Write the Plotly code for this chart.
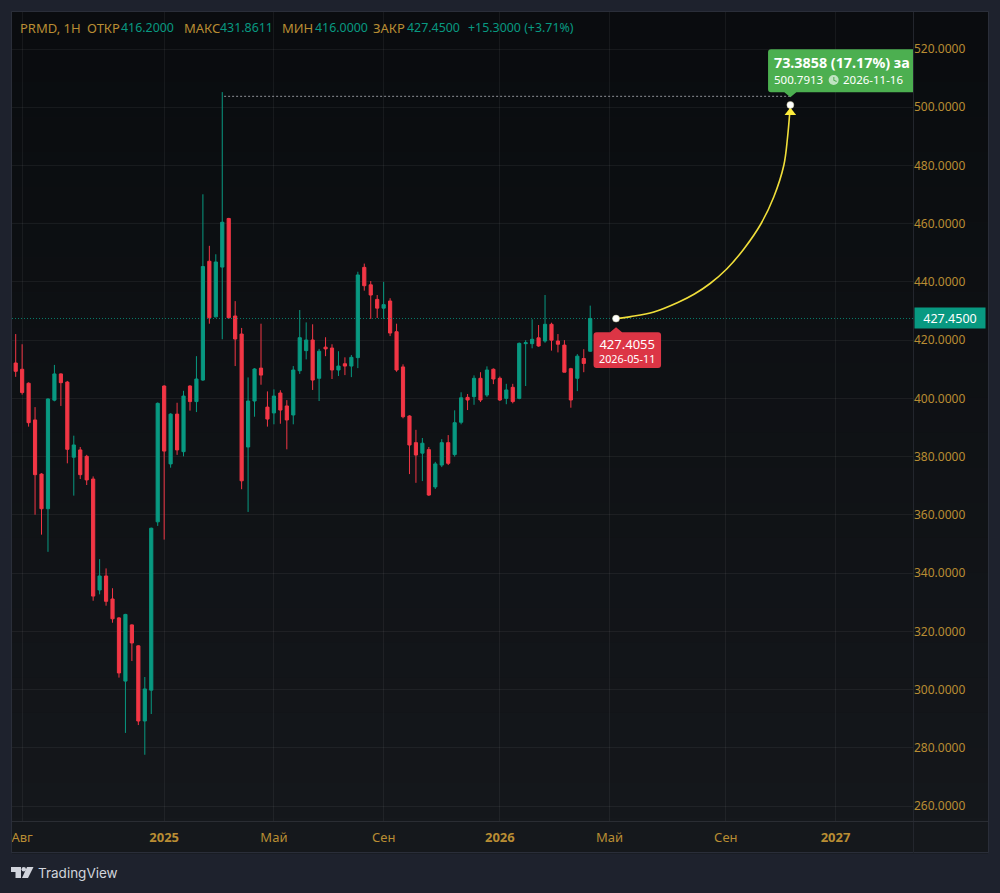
import pandas as pd
import plotly.graph_objects as go

# weekly bars, Monday dates
dates = pd.date_range("2024-07-22", periods=91, freq="7D")

opens = [399.8, 412.15, 410.0, 405.2, 392.6, 374.0, 362.1, 399.4, 408.4, 405.6,
         379.8, 382.3, 380.1, 372.3, 334.2, 339.0, 331.1, 324.6, 302.9, 322.2,
         315.0, 289.2, 299.8, 357.6, 404.25, 377.5, 394.6, 381.7, 404.25, 398.9,
         406.3, 447.1, 428.0, 445.1, 461.8, 428.3, 422.1, 383.3, 399.1, 410.4,
         397.0, 395.0, 401.85, 397.4, 394.3, 409.5, 416.4, 420.05, 406.9, 417.6,
         417.3, 409.75, 411.9, 411.1, 414.0, 445.0, 439.0, 434.0, 431.0, 433.45,
         422.9, 410.8, 393.95, 384.8, 381.2, 382.4, 369.6, 377.1, 384.8, 380.7,
         391.8, 400.35, 400.6, 406.9, 401.15, 410.0, 406.9, 400.0, 403.8, 400.0,
         418.8, 418.8, 420.8, 419.7, 425.45, 419.7, 418.3, 410.2, 406.9, 413.7,
         416.2]
highs = [406.0, 422.1, 418.6, 405.5, 397.0, 374.3, 400.0, 411.5, 408.6, 406.0,
         387.2, 383.3, 380.6, 373.2, 344.8, 341.6, 334.8, 324.9, 326.0, 322.4,
         315.2, 304.3, 355.6, 398.6, 404.5, 394.9, 398.5, 402.6, 404.5, 414.5,
         470.1, 452.4, 449.5, 505.2, 462.0, 433.4, 424.2, 407.2, 410.4, 425.65,
         402.4, 403.1, 402.8, 399.4, 411.1, 430.35, 426.1, 425.45, 417.0, 421.0,
         418.6, 416.2, 414.1, 414.9, 443.5, 446.3, 440.3, 435.5, 440.0, 434.4,
         425.65, 411.7, 394.2, 389.2, 386.4, 383.3, 378.2, 386.0, 387.4, 395.9,
         402.1, 401.5, 407.9, 409.0, 411.0, 410.3, 407.5, 405.0, 405.0, 419.2,
         420.0, 427.15, 425.2, 435.5, 426.0, 422.1, 420.0, 410.5, 415.2, 416.9,
         431.8611]
lows = [399.0, 407.4, 401.3, 390.3, 360.05, 353.2, 347.3, 399.0, 397.4, 377.7,
        366.6, 372.3, 370.25, 330.5, 332.7, 328.8, 322.95, 304.1, 285.1, 309.8,
        287.8, 277.6, 291.6, 356.2, 351.5, 376.2, 380.6, 380.1, 395.8, 395.3,
        406.0, 425.65, 427.8, 420.3, 427.3, 411.1, 368.8, 361.0, 393.7, 404.7,
        390.3, 391.1, 391.3, 382.5, 391.1, 408.4, 413.4, 402.9, 399.1, 414.5,
        406.65, 407.7, 408.0, 407.3, 410.4, 437.0, 427.3, 427.6, 427.3, 421.4,
        409.15, 393.15, 374.0, 371.0, 371.6, 366.5, 368.9, 376.4, 377.1, 380.0,
        391.1, 396.0, 397.8, 398.75, 400.5, 404.9, 399.1, 398.0, 398.3, 399.7,
        404.25, 417.2, 417.75, 419.1, 416.4, 415.8, 409.0, 396.8, 402.5, 409.0,
        416.0]
closes = [405.3, 409.3, 402.0, 391.65, 373.8, 362.1, 399.8, 408.4, 405.4, 382.5,
          384.0, 373.8, 372.0, 332.1, 339.0, 330.3, 324.3, 305.7, 325.8, 316.0,
          289.2, 300.2, 355.4, 398.3, 381.9, 394.6, 382.3, 400.8, 398.9, 406.65,
          445.3, 427.7, 446.85, 460.5, 427.7, 420.4, 371.7, 399.1, 410.1, 408.0,
          392.9, 400.8, 396.0, 392.6, 409.75, 420.85, 420.05, 406.3, 416.2, 417.0,
          409.75, 411.1, 411.1, 414.1, 442.4, 438.7, 435.5, 431.0, 432.2, 422.45,
          409.75, 393.7, 384.0, 380.55, 384.6, 366.8, 377.5, 384.8, 377.7, 391.65,
          400.2, 399.45, 406.9, 399.45, 409.75, 406.65, 399.45, 402.9, 398.9, 418.9,
          419.1, 420.3, 418.0, 425.45, 420.0, 418.6, 409.0, 399.45, 414.5, 412.0,
          427.45]

last_close = 427.45
high_level = 503.75
high_date = "2025-03-12"

# the hand drawn forecast curve
curve_dates = ["2026-05-11", "2026-05-27", "2026-06-21", "2026-07-17", "2026-08-04", "2026-08-21", "2026-09-08",
               "2026-09-27", "2026-10-15", "2026-10-29", "2026-11-09", "2026-11-13", "2026-11-16"]
curve_prices = [427.4055, 428.09, 429.67, 432.93, 435.85, 439.46, 444.44,
                451.48, 459.89, 469.17, 480.16, 489.77, 500.7913]
arrow_price = 498.2

x_tick_dates = ["2024-08-05", "2025-01-06", "2025-05-05", "2025-09-01",
                "2026-01-05", "2026-05-04", "2026-09-07", "2027-01-04"]
x_tick_text = ["Авг", "<b>2025</b>", "Май", "Сен", "<b>2026</b>", "Май", "Сен", "<b>2027</b>"]
y_ticks = [260, 280, 300, 320, 340, 360, 380, 400, 420, 440, 460, 480, 500, 520]

# header line: text and where it starts on the page
header_labels = ["PRMD, 1Н", "ОТКР", "МАКС", "МИН", "ЗАКР"]
header_label_x = [20, 87, 184, 282, 373]
header_values = ["416.2000", "431.8611", "416.0000", "427.4500", "+15.3000 (+3.71%)"]
header_value_x = [120.5, 219.5, 315, 407, 468]

x_range = ["2024-07-25", "2027-03-29"]
y_range = [254.85, 532.71]

UP = "#089981"
DOWN = "#f23645"
AMBER = "#b98d33"
YELLOW = "#f0de3a"
FONT = "Noto Sans"
W, H = 1000, 893
L, R, T, B = 12, 913, 12, 821


# pixel position on the page -> paper coordinates
def px(x):
    return (x - L) / (R - L)


def py(y):
    return (B - y) / (B - T)


def box_path(x0, x1, top, bottom, tip_x, tip_y, r=3):
    # rounded box with a little pointer, pixels relative to the anchor (y up)
    if tip_y > top:
        edge = f"L {tip_x - 6} {top} L {tip_x} {tip_y} L {tip_x + 6} {top} "
        low_edge = ""
    else:
        edge = ""
        low_edge = f"L {tip_x + 6} {bottom} L {tip_x} {tip_y} L {tip_x - 6} {bottom} "
    return (f"M {x0 + r} {top} {edge}L {x1 - r} {top} Q {x1} {top} {x1} {top - r} "
            f"L {x1} {bottom + r} Q {x1} {bottom} {x1 - r} {bottom} {low_edge}"
            f"L {x0 + r} {bottom} Q {x0} {bottom} {x0} {bottom + r} "
            f"L {x0} {top - r} Q {x0} {top} {x0 + r} {top} Z")


def pixel_shape(path, color, x, y):
    return dict(type="path", path=path, fillcolor=color, line=dict(width=0),
                xref="x", yref="y", xsizemode="pixel", ysizemode="pixel",
                xanchor=x, yanchor=y, layer="above")


def poly_path(points):
    return "M " + " L ".join(f"{px(x)} {py(y)}" for x, y in points) + " Z"


fig = go.Figure()

fig.add_trace(go.Scatter(x=x_range, y=[last_close, last_close], mode="lines",
                         line=dict(color=UP, width=1, dash="1px,2px"), opacity=0.8, hoverinfo="skip"))
fig.add_trace(go.Candlestick(x=dates, open=opens, high=highs, low=lows, close=closes,
                             increasing=dict(fillcolor=UP, line=dict(color=UP, width=1)),
                             decreasing=dict(fillcolor=DOWN, line=dict(color=DOWN, width=1)),
                             whiskerwidth=0))
fig.add_trace(go.Scatter(x=[high_date, curve_dates[-1]], y=[high_level, high_level], mode="lines",
                         line=dict(color="#8d9096", width=1, dash="2px,2px"), hoverinfo="skip"))
fig.add_trace(go.Scatter(x=curve_dates, y=curve_prices, mode="lines",
                         line=dict(color=YELLOW, width=1.6, shape="spline", smoothing=1), hoverinfo="skip"))
fig.add_trace(go.Scatter(x=[curve_dates[-1]], y=[arrow_price], mode="markers",
                         marker=dict(symbol="triangle-up", size=10, color="#fdec3c"), hoverinfo="skip"))
fig.add_trace(go.Scatter(x=[curve_dates[0], curve_dates[-1]], y=[curve_prices[0], curve_prices[-1]], mode="markers",
                         marker=dict(size=7, color="white", line=dict(color="#c9c9a0", width=0.5)), hoverinfo="skip"))

# panel background fades from near black to dark grey
shapes = []
bands = 24
for i in range(bands):
    t = i / (bands - 1)
    col = f"rgb({int(10 + 11 * t)},{int(12 + 12 * t)},{int(15 + 13 * t)})"
    y0 = T + (853 - T) * i / bands
    y1 = T + (853 - T) * (i + 1) / bands
    shapes.append(dict(type="rect", xref="paper", yref="paper", x0=px(12), x1=px(988), y0=py(y0), y1=py(y1 + 0.5),
                       fillcolor=col, line=dict(width=0), layer="below"))
shapes.append(dict(type="rect", xref="paper", yref="paper", x0=px(11.5), x1=px(988.5), y0=py(11.5), y1=py(852.5),
                   fillcolor="rgba(0,0,0,0)", line=dict(color="#2a2e39", width=1), layer="above"))
shapes.append(dict(type="line", xref="paper", yref="paper", x0=px(913.5), x1=px(913.5), y0=py(12), y1=py(853),
                   line=dict(color="#23262d", width=1), layer="above"))
shapes.append(dict(type="line", xref="paper", yref="paper", x0=px(12), x1=px(988), y0=py(821.5), y1=py(821.5),
                   line=dict(color="#2a2d33", width=1), layer="above"))

# callouts on the two ends of the curve
start_x, start_y = curve_dates[0], curve_prices[0]
end_x, end_y = curve_dates[-1], curve_prices[-1]
shapes.append(pixel_shape(box_path(-22.5, 45, -13.7, -49.3, 0, -8.7), "#dc3545", start_x, start_y))
shapes.append(pixel_shape(box_path(-22.3, 125, 55.7, 12.7, 0, 7.7), "#4caf50", end_x, end_y))
shapes.append(dict(type="circle", xref="x", yref="y", xsizemode="pixel", ysizemode="pixel",
                   xanchor=end_x, yanchor=end_y, x0=38.3, x1=48.3, y0=20, y1=30,
                   fillcolor="#bfe3c1", line=dict(width=0), layer="above"))
shapes.append(pixel_shape("M 43 28 L 44 28 L 44 25 L 46.5 24 L 46 23 L 43 24.5 Z", "#4caf50", end_x, end_y))

# TradingView logo
logo = "#d1d4dc"
shapes.append(dict(type="path", xref="paper", yref="paper", fillcolor=logo, line=dict(width=0), layer="above",
                   path=poly_path([(11, 867), (21, 867), (21, 878), (15.5, 878), (15.5, 872), (11, 872)])))
shapes.append(dict(type="path", xref="paper", yref="paper", fillcolor=logo, line=dict(width=0), layer="above",
                   path=poly_path([(27, 867), (33.5, 867), (28, 878), (22, 878)])))
shapes.append(dict(type="circle", xref="paper", yref="paper", x0=px(21.5), x1=px(26), y0=py(867), y1=py(871.5),
                   fillcolor=logo, line=dict(width=0), layer="above"))

annotations = [
    dict(xref="paper", yref="paper", x=px(36), y=py(873), text="TradingView", xanchor="left", yanchor="middle",
         showarrow=False, font=dict(size=13.5, family="Inter", color=logo)),
    dict(xref="paper", yref="y", x=px(914), y=last_close, text="427.4500", xanchor="left", yanchor="middle",
         showarrow=False, width=66, height=16, bgcolor=UP, borderpad=2, align="center",
         font=dict(size=12.5, family=FONT, color="white")),
    dict(x=start_x, y=start_y, xshift=11.3, yshift=-32, showarrow=False, align="center",
         text='<span style="font-size:13px">427.4055</span><br>2026-05-11',
         font=dict(size=10.8, family=FONT, color="white")),
    dict(x=end_x, y=end_y, xshift=-18, yshift=42, text="<b>73.3858 (17.17%) за</b>", showarrow=False, xanchor="left",
         font=dict(size=14.3, family=FONT, color="white")),
    dict(x=end_x, y=end_y, xshift=-18, yshift=25, text="500.7913", showarrow=False, xanchor="left",
         font=dict(size=11.5, family=FONT, color="white")),
    dict(x=end_x, y=end_y, xshift=50.5, yshift=25, text="2026-11-16", showarrow=False, xanchor="left",
         font=dict(size=11.5, family=FONT, color="white")),
]
for text, x in zip(header_labels, header_label_x):
    annotations.append(dict(xref="paper", yref="paper", x=px(x - 2), y=py(28), text=text, xanchor="left",
                            yanchor="middle", showarrow=False, font=dict(size=13, family=FONT, color=AMBER)))
for text, x in zip(header_values, header_value_x):
    annotations.append(dict(xref="paper", yref="paper", x=px(x - 2), y=py(28), text=text, xanchor="left",
                            yanchor="middle", showarrow=False, font=dict(size=12.4, family=FONT, color=UP)))

fig.update_layout(
    width=W, height=H,
    margin=dict(l=L, r=W - R, t=T, b=H - B),
    paper_bgcolor="#1e222d",
    plot_bgcolor="rgba(0,0,0,0)",
    showlegend=False,
    shapes=shapes,
    annotations=annotations,
    font=dict(family=FONT, size=12, color=AMBER),
)
fig.update_xaxes(type="date", range=x_range, rangeslider_visible=False, tickmode="array",
                 tickvals=x_tick_dates, ticktext=x_tick_text, showgrid=True, gridcolor="rgba(255,255,255,0.055)",
                 gridwidth=1, zeroline=False, showline=False, ticks="", ticklabelstandoff=7,
                 tickfont=dict(size=13, color=AMBER, family=FONT))
fig.update_yaxes(range=y_range, side="right", tickmode="array", tickvals=y_ticks, tickformat=".4f",
                 showgrid=True, gridcolor="rgba(255,255,255,0.055)", gridwidth=1, zeroline=False,
                 showline=False, ticks="", tickfont=dict(size=12, color=AMBER, family=FONT))

fig.write_html("out.html", config=dict(displayModeBar=False),
               post_script="document.body.style.margin='0';document.body.style.overflow='hidden';")
